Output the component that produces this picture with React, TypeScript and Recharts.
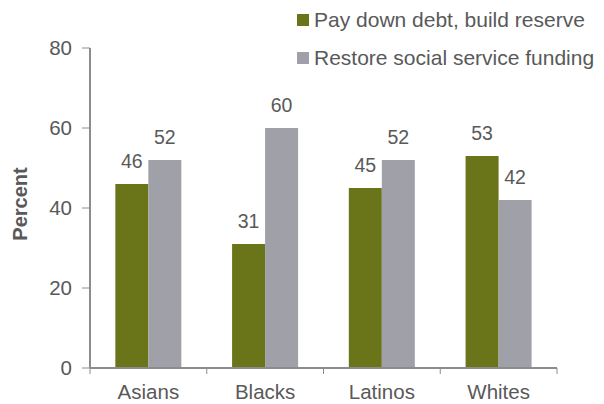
import React from 'react';
import { BarChart, Bar, XAxis, YAxis, LabelList } from 'recharts';

const categories = ['Asians', 'Blacks', 'Latinos', 'Whites'];
const payDownDebt = [46, 31, 45, 53];
const restoreFunding = [52, 60, 52, 42];
const yTicks = [0, 20, 40, 60, 80];
const seriesNames = ['Pay down debt, build reserve', 'Restore social service funding'];

const GREEN = '#6A7418';
const GRAY = '#A0A0A8';
const TEXT = '#595959';
const AXIS = '#8C8C8C';
const FONT = 'Liberation Sans, Arial, sans-serif';

const data = categories.map((c, i) => ({
  name: c,
  debt: payDownDebt[i],
  restore: restoreFunding[i],
}));

const W = 604;
const H = 404;
const margin = { top: 48, right: 47, left: 0, bottom: 0 };
const yAxisWidth = 90;
const plotWidth = W - margin.left - margin.right - yAxisWidth;
const band = plotWidth / categories.length;

const XTick = (props: any) => {
  const { x, y, payload, index } = props;
  const left = x - band / 2;
  const right = x + band / 2;
  return (
    <g>
      <line x1={left} x2={left} y1={y - 8} y2={y - 2} stroke={AXIS} strokeWidth={1} />
      {index === categories.length - 1 && (
        <line x1={right} x2={right} y1={y - 8} y2={y - 2} stroke={AXIS} strokeWidth={1} />
      )}
      <text x={x} y={y + 23} textAnchor="middle" fill={TEXT} fontSize={20.5} fontFamily={FONT}>
        {payload.value}
      </text>
    </g>
  );
};

const LegendBox = () => (
  <div
    style={{
      position: 'absolute',
      left: 297,
      top: 1,
      fontFamily: FONT,
      fontSize: 21,
      color: TEXT,
      whiteSpace: 'nowrap',
    }}
  >
    {seriesNames.map((n, i) => (
      <div key={n} style={{ display: 'flex', alignItems: 'center', height: 38 }}>
        <span
          style={{
            display: 'inline-block',
            width: 12,
            height: 12,
            background: i === 0 ? GREEN : GRAY,
            marginRight: 5,
          }}
        />
        <span>{n}</span>
      </div>
    ))}
  </div>
);

export default function App() {
  return (
    <div style={{ position: 'absolute', left: 0, top: 0, width: W, height: H, background: '#fff' }}>
      <BarChart width={W} height={H} data={data} margin={margin} barCategoryGap="21.7%" barGap={0}>
        <XAxis
          dataKey="name"
          height={36}
          axisLine={{ stroke: AXIS, strokeWidth: 2 }}
          tickLine={false}
          tick={<XTick />}
          interval={0}
        />
        <YAxis
          width={yAxisWidth}
          domain={[0, 80]}
          ticks={yTicks}
          tickSize={8}
          axisLine={{ stroke: AXIS, strokeWidth: 2 }}
          tickLine={{ stroke: AXIS }}
          tick={{ fill: TEXT, fontSize: 20.5, fontFamily: FONT }}
          tickMargin={10}
          label={{
            content: (p: any) => {
              const vb = p.viewBox;
              const cx = vb.x + 20;
              const cy = vb.y + vb.height / 2 - 4;
              return (
                <text
                  x={cx}
                  y={cy}
                  transform={`rotate(-90 ${cx} ${cy})`}
                  textAnchor="middle"
                  dominantBaseline="central"
                  fill={TEXT}
                  fontSize={20}
                  fontWeight="bold"
                  fontFamily={FONT}
                >
                  Percent
                </text>
              );
            },
          }}
        />
        <Bar dataKey="debt" name={seriesNames[0]} fill={GREEN} isAnimationActive={false}>
          <LabelList dataKey="debt" position="top" offset={16} fill={TEXT} fontSize={19.5} fontFamily={FONT} />
        </Bar>
        <Bar dataKey="restore" name={seriesNames[1]} fill={GRAY} isAnimationActive={false}>
          <LabelList dataKey="restore" position="top" offset={16} fill={TEXT} fontSize={19.5} fontFamily={FONT} />
        </Bar>
      </BarChart>
      <LegendBox />
    </div>
  );
}
